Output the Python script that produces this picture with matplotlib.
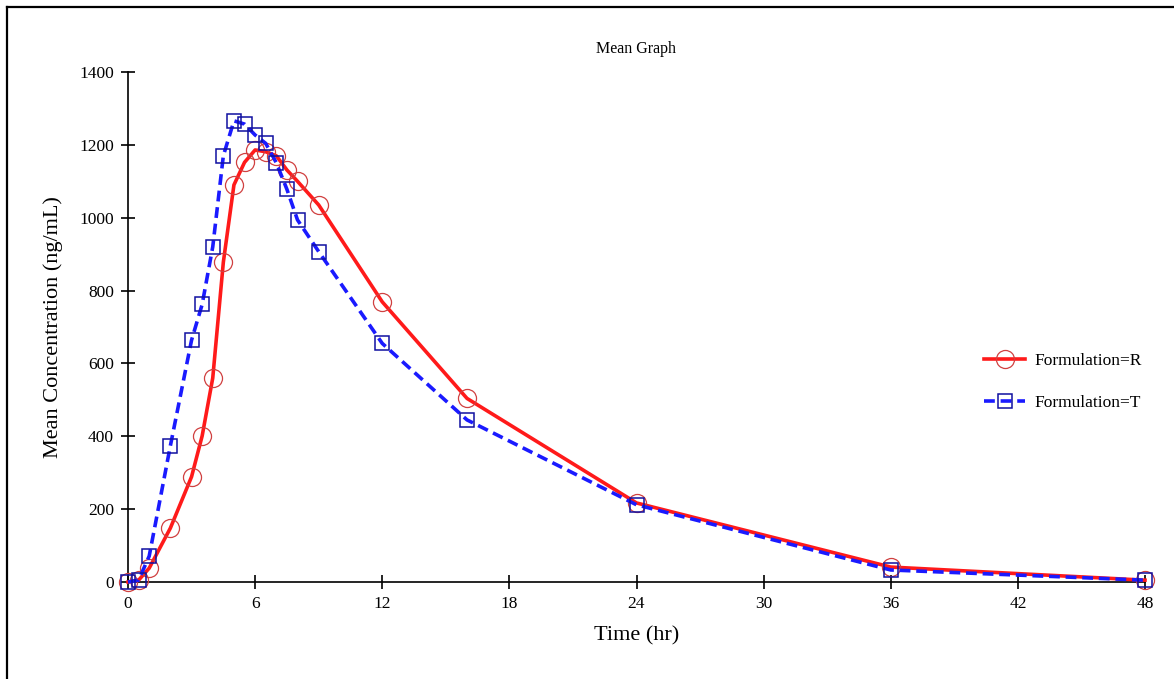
import matplotlib.pyplot as plt
from matplotlib.lines import Line2D

# time points (hr)
time_hr = [0, 0.5, 1, 2, 3, 3.5, 4, 4.5, 5, 5.5, 6, 6.5, 7, 7.5, 8, 9, 12, 16, 24, 36, 48]

# mean concentration (ng/mL)
conc_R = [0, 5, 38, 148, 289, 401, 560, 878, 1090, 1152, 1186, 1181, 1170, 1131, 1100, 1035, 769, 504, 217, 41, 5]
conc_T = [0, 5, 71, 374, 664, 762, 920, 1170, 1266, 1257, 1227, 1204, 1151, 1078, 994, 907, 655, 445, 212, 33, 5]

x_ticks = [0, 6, 12, 18, 24, 30, 36, 42, 48]
y_ticks = [0, 200, 400, 600, 800, 1000, 1200, 1400]

plt.rcParams['font.family'] = ['Liberation Serif', 'DejaVu Serif']

fig = plt.figure(figsize=(11.74, 6.79), dpi=100)
ax = fig.add_axes([128 / 1174, 1 - 582 / 679, (1145 - 128) / 1174, 510 / 679])

ax.plot(time_hr, conc_R, color='#ff1a1a', lw=2.6, marker='o', ms=13,
        mfc='none', mec='#d04040', mew=0.9, label='Formulation=R', clip_on=False, zorder=3)
ax.plot(time_hr, conc_T, color='#1a1aff', lw=2.6, ls=(0, (3, 1.6)), marker='s', ms=9.5,
        mfc='none', mec='#1010a0', mew=1.1, label='Formulation=T', clip_on=False, zorder=4)

ax.set_xlim(0, 48)
ax.set_ylim(0, 1400)
ax.set_xticks(x_ticks)
ax.set_yticks(y_ticks)
ax.spines['top'].set_visible(False)
ax.spines['right'].set_visible(False)
ax.spines['left'].set_linewidth(1.2)
ax.spines['bottom'].set_linewidth(1.2)
ax.tick_params(direction='inout', length=10, width=1.2, labelsize=12.5, pad=5)

ax.set_xlabel('Time (hr)', fontsize=16, labelpad=10)
ax.set_ylabel('Mean Concentration (ng/mL)', fontsize=16, labelpad=12)
ax.set_title('Mean Graph', fontsize=11.5, pad=14)

ax.legend(loc='center left', bbox_to_anchor=(0.826, 0.392), frameon=False,
          fontsize=12.5, handlelength=2.4, handletextpad=0.55, labelspacing=1.45)

# frame lines (left and top only)
fig.add_artist(Line2D([7 / 1174, 7 / 1174], [0, 1 - 7 / 679], transform=fig.transFigure,
                      color='black', lw=1.6))
fig.add_artist(Line2D([7 / 1174, 1], [1 - 7 / 679, 1 - 7 / 679], transform=fig.transFigure,
                      color='black', lw=1.6))

fig.savefig('out.png', dpi=100)
